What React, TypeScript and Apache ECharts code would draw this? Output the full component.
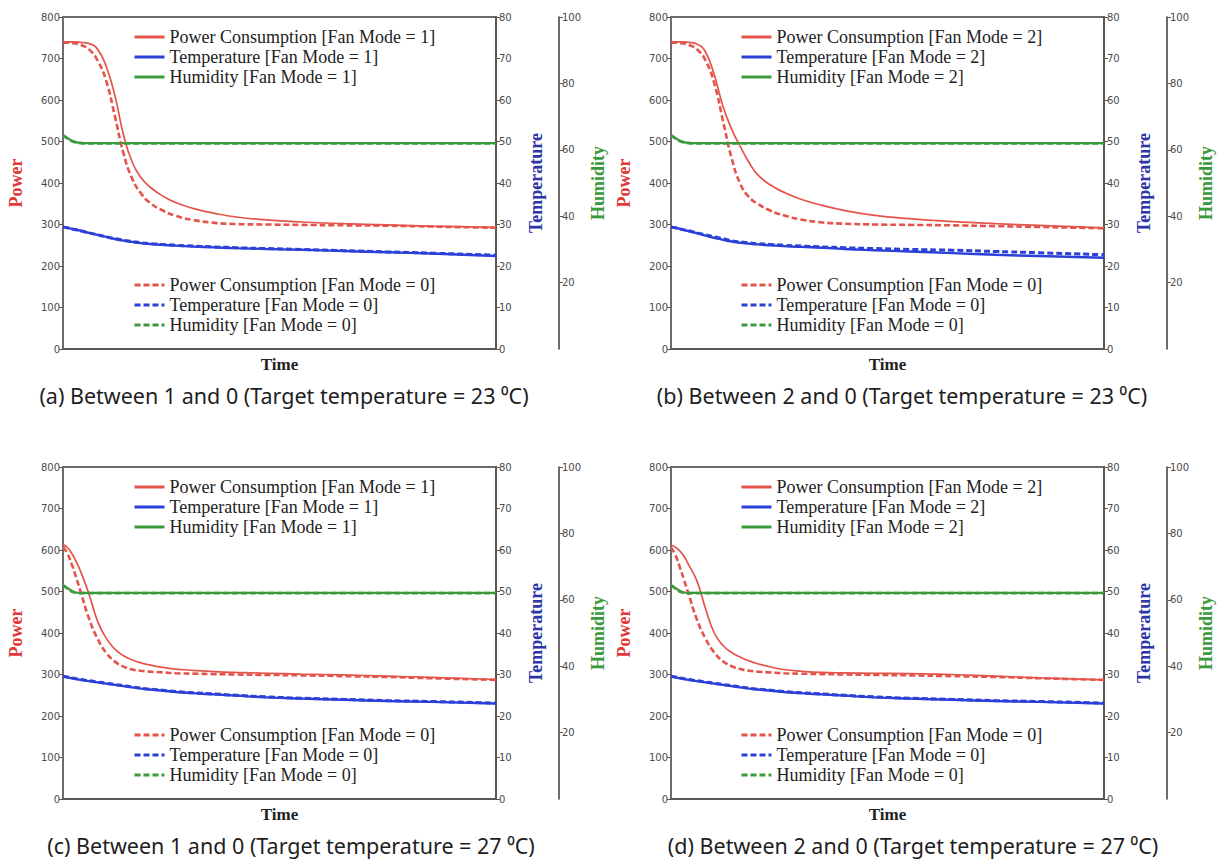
import React, { useEffect, useRef } from "react";
import * as echarts from "echarts";

// ---------- data ----------
const TIME = [0, 1, 2, 3, 4, 6, 8, 10, 12, 14, 16, 18, 20, 23, 26, 30, 35, 40, 47, 55, 65, 75, 85, 100];

// (a) Fan mode 1 vs 0, target 23
const POWER_A_FAN1 = [740, 740, 740, 740, 739, 736, 722, 680, 610, 515, 450, 413, 391, 369, 353, 339, 327, 318, 311, 306, 302, 299, 296, 293];
const POWER_A_FAN0 = [738, 738, 737, 736, 733, 722, 695, 645, 560, 470, 410, 375, 353, 334, 321, 311, 304, 301, 300, 299, 298, 297, 295, 292];
const TEMP_A_FAN1 = [29.5, 29.2, 29.0, 28.8, 28.5, 28.0, 27.5, 27.0, 26.5, 26.1, 25.8, 25.5, 25.3, 25.1, 24.9, 24.7, 24.5, 24.3, 24.1, 23.9, 23.6, 23.3, 23.0, 22.4];
const TEMP_A_FAN0 = [29.4, 29.2, 28.9, 28.7, 28.5, 28.0, 27.5, 27.0, 26.6, 26.2, 25.9, 25.6, 25.4, 25.2, 25.0, 24.8, 24.6, 24.4, 24.2, 24.0, 23.7, 23.4, 23.1, 22.6];
const HUM_A_FAN1 = [64.5, 63.6, 62.8, 62.3, 62.1, 62.0, 62.0, 62.0, 62.0, 62.0, 62.0, 62.0, 62.0, 62.0, 62.0, 62.0, 62.0, 62.0, 62.0, 62.0, 62.0, 62.0, 62.0, 62.0];
const HUM_A_FAN0 = [64.3, 63.4, 62.6, 62.2, 62.0, 61.9, 61.9, 61.9, 61.9, 61.9, 61.9, 61.9, 61.9, 61.9, 61.9, 61.9, 61.9, 61.9, 61.9, 61.9, 61.9, 61.9, 61.9, 61.9];

// (b) Fan mode 2 vs 0, target 23
const POWER_B_FAN2 = [740, 740, 740, 740, 739, 735, 715, 660, 585, 530, 488, 450, 420, 395, 378, 361, 346, 334, 322, 314, 307, 302, 298, 292];
const POWER_B_FAN0 = [738, 738, 737, 736, 733, 722, 695, 640, 550, 460, 398, 366, 350, 333, 322, 312, 305, 302, 300, 299, 298, 296, 294, 291];
const TEMP_B_FAN2 = [29.5, 29.2, 29.0, 28.7, 28.4, 27.9, 27.3, 26.8, 26.3, 25.9, 25.6, 25.4, 25.2, 25.0, 24.8, 24.6, 24.4, 24.1, 23.8, 23.5, 23.1, 22.7, 22.4, 22.0];
const TEMP_B_FAN0 = [29.4, 29.2, 28.9, 28.7, 28.5, 28.0, 27.5, 27.0, 26.6, 26.1, 25.8, 25.6, 25.4, 25.2, 25.0, 24.8, 24.6, 24.4, 24.2, 24.0, 23.8, 23.5, 23.2, 22.7];
const HUM_B_FAN2 = [64.5, 63.6, 62.8, 62.3, 62.1, 62.0, 62.0, 62.0, 62.0, 62.0, 62.0, 62.0, 62.0, 62.0, 62.0, 62.0, 62.0, 62.0, 62.0, 62.0, 62.0, 62.0, 62.0, 62.0];
const HUM_B_FAN0 = [64.3, 63.4, 62.6, 62.2, 62.0, 61.9, 61.9, 61.9, 61.9, 61.9, 61.9, 61.9, 61.9, 61.9, 61.9, 61.9, 61.9, 61.9, 61.9, 61.9, 61.9, 61.9, 61.9, 61.9];

// (c) Fan mode 1 vs 0, target 27
const POWER_C_FAN1 = [613, 606, 592, 573, 550, 494, 428, 387, 361, 345, 335, 328, 323, 317, 313, 310, 307, 305, 303, 301, 299, 296, 293, 288];
const POWER_C_FAN0 = [607, 592, 566, 535, 502, 435, 386, 352, 331, 319, 312, 309, 307, 305, 303, 302, 301, 300, 299, 298, 296, 294, 291, 287];
const TEMP_C_FAN1 = [29.5, 29.3, 29.1, 28.9, 28.7, 28.4, 28.1, 27.8, 27.5, 27.2, 26.9, 26.6, 26.4, 26.1, 25.8, 25.5, 25.2, 24.9, 24.5, 24.2, 23.9, 23.6, 23.4, 23.0];
const TEMP_C_FAN0 = [29.6, 29.4, 29.2, 29.0, 28.8, 28.5, 28.2, 27.9, 27.6, 27.3, 27.0, 26.7, 26.5, 26.2, 25.9, 25.6, 25.3, 25.0, 24.6, 24.3, 24.0, 23.7, 23.5, 23.1];
const HUM_C_FAN1 = [64.5, 63.6, 62.7, 62.2, 62.1, 62.1, 62.1, 62.1, 62.1, 62.1, 62.1, 62.1, 62.1, 62.1, 62.1, 62.1, 62.1, 62.1, 62.1, 62.1, 62.1, 62.1, 62.1, 62.1];
const HUM_C_FAN0 = [64.3, 63.4, 62.5, 62.1, 62.0, 62.0, 62.0, 62.0, 62.0, 62.0, 62.0, 62.0, 62.0, 62.0, 62.0, 62.0, 62.0, 62.0, 62.0, 62.0, 62.0, 62.0, 62.0, 62.0];

// (d) Fan mode 2 vs 0, target 27
const POWER_D_FAN2 = [612, 607, 598, 585, 566, 525, 458, 400, 370, 353, 342, 333, 326, 318, 312, 308, 305, 304, 303, 302, 300, 296, 292, 287];
const POWER_D_FAN0 = [606, 588, 560, 528, 496, 432, 386, 353, 332, 320, 313, 309, 307, 305, 303, 302, 301, 300, 299, 298, 296, 294, 291, 287];
const TEMP_D_FAN2 = [29.5, 29.3, 29.1, 28.9, 28.7, 28.4, 28.1, 27.8, 27.5, 27.2, 26.9, 26.6, 26.4, 26.1, 25.8, 25.5, 25.2, 24.9, 24.5, 24.2, 23.9, 23.6, 23.4, 23.0];
const TEMP_D_FAN0 = [29.6, 29.4, 29.2, 29.0, 28.8, 28.5, 28.2, 27.9, 27.6, 27.3, 27.0, 26.7, 26.5, 26.2, 25.9, 25.6, 25.3, 25.0, 24.6, 24.3, 24.0, 23.7, 23.5, 23.1];
const HUM_D_FAN2 = [64.5, 63.6, 62.7, 62.2, 62.1, 62.1, 62.1, 62.1, 62.1, 62.1, 62.1, 62.1, 62.1, 62.1, 62.1, 62.1, 62.1, 62.1, 62.1, 62.1, 62.1, 62.1, 62.1, 62.1];
const HUM_D_FAN0 = [64.3, 63.4, 62.5, 62.1, 62.0, 62.0, 62.0, 62.0, 62.0, 62.0, 62.0, 62.0, 62.0, 62.0, 62.0, 62.0, 62.0, 62.0, 62.0, 62.0, 62.0, 62.0, 62.0, 62.0];

const CAPTIONS = [
  "(a) Between 1 and 0 (Target temperature = 23 \u2070C)",
  "(b) Between 2 and 0 (Target temperature = 23 \u2070C)",
  "(c) Between 1 and 0 (Target temperature = 27 \u2070C)",
  "(d) Between 2 and 0 (Target temperature = 27 \u2070C)",
];
const FAN_MODES = [1, 2, 1, 2];

// ---------- layout ----------
const PANELS = [
  { left: 63, top: 17, capX: 284, capY: 395, legX: 133, data: [POWER_A_FAN1, TEMP_A_FAN1, HUM_A_FAN1, POWER_A_FAN0, TEMP_A_FAN0, HUM_A_FAN0] },
  { left: 671, top: 17, capX: 902, capY: 395, legX: 740, data: [POWER_B_FAN2, TEMP_B_FAN2, HUM_B_FAN2, POWER_B_FAN0, TEMP_B_FAN0, HUM_B_FAN0] },
  { left: 63, top: 467, capX: 291, capY: 845, legX: 133, data: [POWER_C_FAN1, TEMP_C_FAN1, HUM_C_FAN1, POWER_C_FAN0, TEMP_C_FAN0, HUM_C_FAN0] },
  { left: 671, top: 467, capX: 913, capY: 845, legX: 740, data: [POWER_D_FAN2, TEMP_D_FAN2, HUM_D_FAN2, POWER_D_FAN0, TEMP_D_FAN0, HUM_D_FAN0] },
];
const GRID_W = 433;
const GRID_H = 332;

const RED = "#e5544b";
const BLUE = "#2b40d6";
const GREEN = "#3c9a3c";
const AXIS_GREY = "#5a5656";
const SERIF = '"Liberation Serif", "DejaVu Serif", serif';
const TICK_FONT = '"DejaVu Sans", sans-serif';

function names(mode: number) {
  return [
    `Power Consumption [Fan Mode = ${mode}]`,
    `Temperature [Fan Mode = ${mode}]`,
    `Humidity [Fan Mode = ${mode}]`,
  ];
}

function buildOption() {
  const grid: any[] = [];
  const xAxis: any[] = [];
  const yAxis: any[] = [];
  const series: any[] = [];
  const legend: any[] = [];
  const graphic: any[] = [];

  const tickLabel = { fontSize: 10, color: "#4a4a4a", fontFamily: TICK_FONT, margin: 3 };

  PANELS.forEach((p, i) => {
    grid.push({
      left: p.left,
      top: p.top,
      width: GRID_W,
      height: GRID_H,
      show: true,
      borderColor: "#3a3a3a",
      borderWidth: 1.5,
      backgroundColor: "transparent",
    });
    xAxis.push({
      gridIndex: i,
      type: "value",
      min: 0,
      max: 100,
      name: "Time",
      nameLocation: "middle",
      nameGap: 7,
      nameTextStyle: { fontFamily: SERIF, fontWeight: "bold", fontSize: 17, color: "#222", verticalAlign: "top" },
      axisLine: { show: true, lineStyle: { color: AXIS_GREY, width: 2 } },
      axisTick: { show: false },
      axisLabel: { show: false },
      splitLine: { show: false },
    });
    yAxis.push({
      gridIndex: i,
      type: "value",
      position: "left",
      min: 0,
      max: 800,
      interval: 100,
      name: "Power",
      nameLocation: "middle",
      nameRotate: 90,
      nameGap: 38,
      nameTextStyle: { fontFamily: SERIF, fontWeight: "bold", fontSize: 18, color: "#e0393a" },
      axisLine: { show: true, lineStyle: { color: "#6f6b6b", width: 2 } },
      axisTick: { show: true, length: 4, lineStyle: { color: AXIS_GREY } },
      axisLabel: tickLabel,
      splitLine: { show: false },
    });
    yAxis.push({
      gridIndex: i,
      type: "value",
      position: "right",
      min: 0,
      max: 80,
      interval: 10,
      name: "Temperature",
      nameLocation: "middle",
      nameRotate: 90,
      nameGap: 31,
      nameTextStyle: { fontFamily: SERIF, fontWeight: "bold", fontSize: 18, color: "#2b35a8" },
      axisLine: { show: true, lineStyle: { color: AXIS_GREY, width: 2 } },
      axisTick: { show: true, length: 4, lineStyle: { color: AXIS_GREY } },
      axisLabel: tickLabel,
      splitLine: { show: false },
    });
    yAxis.push({
      gridIndex: i,
      type: "value",
      position: "right",
      offset: 63,
      min: 0,
      max: 100,
      interval: 20,
      name: "Humidity",
      nameLocation: "middle",
      nameRotate: 90,
      nameGap: 30,
      nameTextStyle: { fontFamily: SERIF, fontWeight: "bold", fontSize: 18, color: "#3a9a3a" },
      axisLine: { show: true, lineStyle: { color: "#3f3a3a", width: 1.5 } },
      axisTick: { show: true, length: 4, lineStyle: { color: AXIS_GREY } },
      axisLabel: { ...tickLabel, showMinLabel: false },
      splitLine: { show: false },
    });

    const onNames = names(FAN_MODES[i]);
    const offNames = names(0);
    const colors = [RED, BLUE, GREEN];
    const solidWidths = [1.7, 2.4, 2.2];
    const dashWidths = [2.6, 3, 2.6];
    for (let k = 0; k < 3; k++) {
      series.push({
        type: "line",
        name: onNames[k],
        xAxisIndex: i,
        yAxisIndex: i * 3 + k,
        data: TIME.map((t, j) => [t, p.data[k][j]]),
        smooth: 0.5,
        symbol: "none",
        showSymbol: false,
        color: colors[k],
        lineStyle: { color: colors[k], width: solidWidths[k], type: "solid" },
        z: 2,
      });
    }
    for (let k = 0; k < 3; k++) {
      series.push({
        type: "line",
        name: offNames[k],
        xAxisIndex: i,
        yAxisIndex: i * 3 + k,
        data: TIME.map((t, j) => [t, p.data[k + 3][j]]),
        smooth: 0.5,
        symbol: "none",
        showSymbol: false,
        color: colors[k],
        lineStyle: { color: colors[k], width: dashWidths[k], type: [6, 3] },
        z: 3,
      });
    }

    const legendCommon = {
      orient: "vertical",
      left: p.legX,
      padding: 0,
      itemWidth: 30,
      itemHeight: 14,
      itemGap: 2,
      selectedMode: false,
      textStyle: { fontFamily: SERIF, fontSize: 18, lineHeight: 18, color: "#222" },
      lineStyle: { width: 3 },
      itemStyle: { opacity: 0 },
    };
    legend.push({ ...legendCommon, top: p.top + 11, data: onNames });
    legend.push({ ...legendCommon, top: p.top + 259, data: offNames });

    graphic.push({
      type: "text",
      x: p.capX,
      y: p.capY,
      style: {
        text: CAPTIONS[i],
        fontFamily: '"Noto Sans", "DejaVu Sans", sans-serif',
        fontSize: 21.5,
        fill: "#1e1e1e",
        align: "center",
        verticalAlign: "middle",
      },
    });
  });

  return {
    animation: false,
    backgroundColor: "#ffffff",
    grid,
    xAxis,
    yAxis,
    series,
    legend,
    graphic,
  };
}

export default function App() {
  const ref = useRef<HTMLDivElement>(null);
  useEffect(() => {
    if (!ref.current) return;
    const chart = echarts.init(ref.current, undefined, { renderer: "svg" });
    chart.setOption(buildOption() as any);
    return () => chart.dispose();
  }, []);
  return (
    <div
      ref={ref}
      style={{ position: "absolute", left: 0, top: 0, width: 1222, height: 859, background: "#fff" }}
    />
  );
}
